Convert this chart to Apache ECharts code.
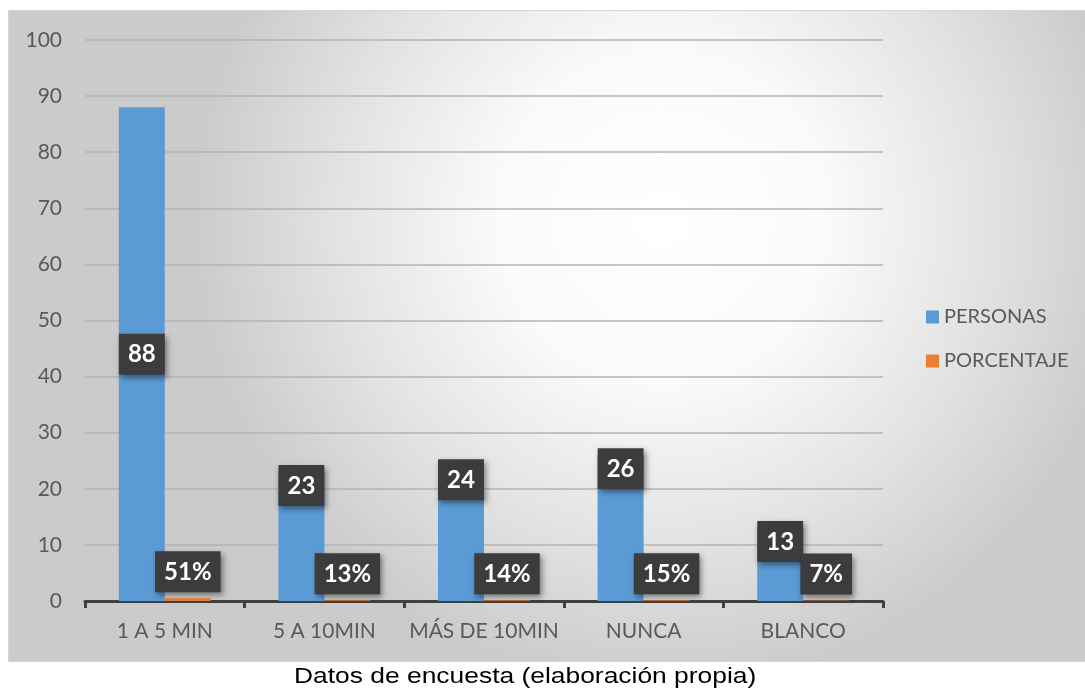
<!DOCTYPE html>
<html>
<head>
<meta charset="utf-8">
<script src="https://cdn.jsdelivr.net/npm/echarts@6/dist/echarts.min.js"></script>
<style>
html,body{margin:0;padding:0;background:#fff;}
#c{width:1085px;height:692px;}
</style>
</head>
<body>
<div id="c"></div>
<script>
const categories = ['1 A 5 MIN', '5 A 10MIN', 'MÁS DE 10MIN', 'NUNCA', 'BLANCO'];
const personas = [88, 23, 24, 26, 13];
const porcentaje = [0.51, 0.13, 0.14, 0.15, 0.07];
const seriesNames = ['PERSONAS', 'PORCENTAJE'];
const caption = 'Datos de encuesta (elaboración propia)';

const labelBox = {
  show: true,
  color: '#ffffff',
  fontFamily: 'Lato',
  fontWeight: 'bold',
  fontSize: 24,
  lineHeight: 24,
  backgroundColor: '#3c3c3c',
  padding: [9, 9, 8, 9],
  shadowColor: 'rgba(0,0,0,0.45)',
  shadowBlur: 6,
  shadowOffsetX: 2,
  shadowOffsetY: 3
};

const chart = echarts.init(document.getElementById('c'), null, { renderer: 'canvas' });
chart.setOption({
  animation: false,
  backgroundColor: '#ffffff',
  graphic: [{
    type: 'rect',
    z: -10,
    silent: true,
    shape: { x: 8.5, y: 10.5, width: 1090, height: 651 },
    style: {
      fill: new echarts.graphic.RadialGradient(0.6, 0.32, 0.72, [
        { offset: 0, color: '#ffffff' },
        { offset: 0.35, color: '#fafafa' },
        { offset: 0.7, color: '#e2e2e2' },
        { offset: 1, color: '#cbcbcb' }
      ]),
      stroke: '#d6d6d6',
      lineWidth: 1
    }
  }, {
    type: 'text',
    silent: true,
    x: 294,
    y: 677,
    scaleX: 1.2,
    style: {
      text: caption,
      font: '22px "Liberation Sans"',
      fill: '#000000',
      verticalAlign: 'middle',
      align: 'left'
    }
  }],
  legend: {
    orient: 'vertical',
    left: 921,
    top: 302,
    itemWidth: 13,
    itemHeight: 13,
    itemGap: 24,
    icon: 'rect',
    data: seriesNames,
    textStyle: { fontFamily: 'Lato', fontSize: 20, color: '#595959' }
  },
  grid: { left: 85, right: 202, top: 40, bottom: 91, containLabel: false },
  xAxis: {
    type: 'category',
    data: categories,
    axisLine: { show: true, lineStyle: { color: '#404040', width: 3 } },
    axisTick: { show: true, length: 7, lineStyle: { color: '#404040', width: 3 } },
    axisLabel: { interval: 0, fontFamily: 'Lato', fontSize: 21, color: '#595959', margin: 20 }
  },
  yAxis: {
    type: 'value',
    min: 0,
    max: 100,
    interval: 10,
    axisLine: { show: false },
    axisTick: { show: false },
    axisLabel: { fontFamily: 'Lato', fontSize: 21, color: '#595959', margin: 23 },
    splitLine: { lineStyle: { color: '#b3b3b3', width: 1.5 } }
  },
  series: [
    {
      name: seriesNames[0],
      type: 'bar',
      barWidth: 46,
      barGap: '0%',
      itemStyle: { color: '#5b9bd5' },
      data: personas.map((v, i) => i === 0 ? { value: v, label: { position: 'inside', offset: [0, 0] } } : v),
      label: Object.assign({}, labelBox, { position: 'insideTop', offset: [0, -12] })
    },
    {
      name: seriesNames[1],
      type: 'bar',
      barWidth: 46,
      itemStyle: { color: '#ed7d31' },
      data: porcentaje,
      label: Object.assign({}, labelBox, {
        position: 'top',
        distance: 6,
        formatter: p => Math.round(p.value * 100) + '%'
      })
    }
  ]
});
</script>
</body>
</html>
